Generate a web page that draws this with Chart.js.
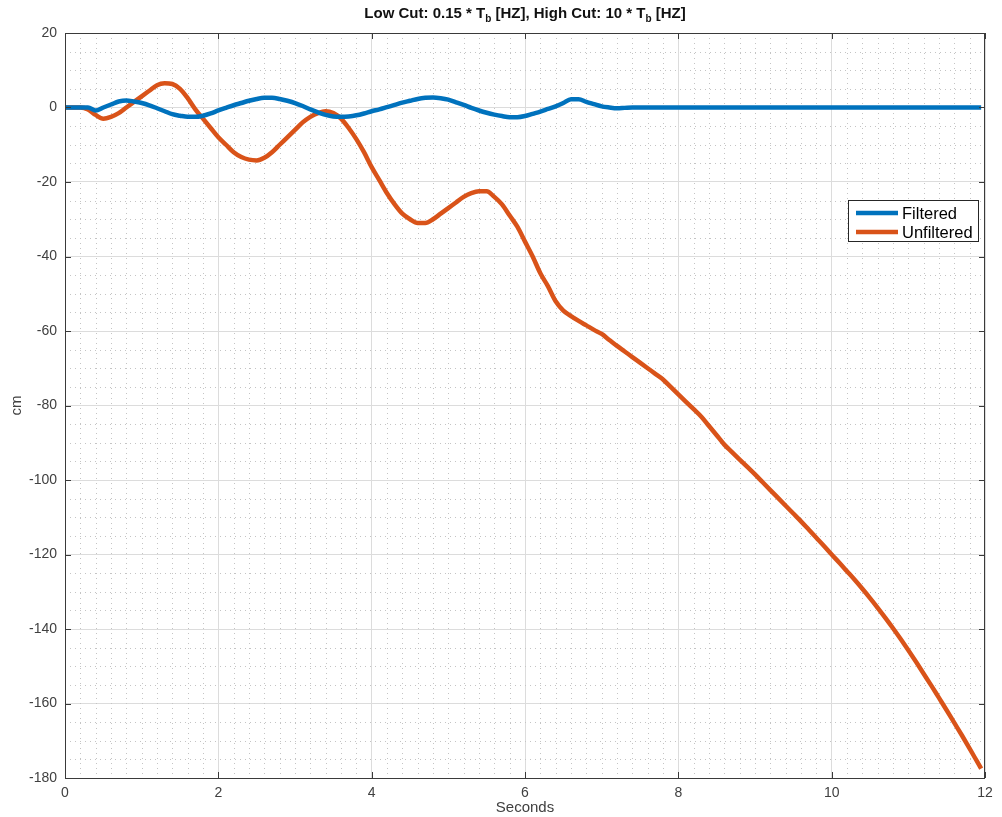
<!DOCTYPE html>
<html><head><meta charset="utf-8">
<script src="https://cdn.jsdelivr.net/npm/chart.js@4.4.0/dist/chart.umd.min.js"></script>
<style>html,body{margin:0;padding:0;background:#fff;}#wrap{width:1002px;height:817px;}</style>
</head><body><div id="wrap"><canvas id="c" width="1002" height="817"></canvas></div>
<script>
const seconds = [0,0.1,0.2,0.3,0.4,0.5,0.6,0.7,0.8,0.9,1,1.1,1.2,1.3,1.4,1.5,1.6,1.7,1.8,1.9,2,2.1,2.2,2.3,2.4,2.5,2.6,2.7,2.8,2.9,3,3.1,3.2,3.3,3.4,3.5,3.6,3.7,3.8,3.9,4,4.1,4.2,4.3,4.4,4.5,4.6,4.7,4.8,4.9,5,5.1,5.2,5.3,5.4,5.5,5.6,5.7,5.8,5.9,6,6.1,6.2,6.3,6.4,6.5,6.6,6.7,6.8,6.9,7,7.1,7.2,7.3,7.4,7.5,7.6,7.7,7.8,7.9,8,8.1,8.2,8.3,8.4,8.5,8.6,8.7,8.8,8.9,9,9.1,9.2,9.3,9.4,9.5,9.6,9.7,9.8,9.9,10,10.1,10.2,10.3,10.4,10.5,10.6,10.7,10.8,10.9,11,11.1,11.2,11.3,11.4,11.5,11.6,11.7,11.8,11.9,11.95];
const filtered = [0,0,0,0,-0.8,0,0.8,1.6,1.9,1.6,1.2,0.6,-0.2,-1.0,-1.8,-2.2,-2.5,-2.5,-2.2,-1.6,-0.8,-0.1,0.6,1.2,1.8,2.3,2.6,2.6,2.3,1.8,1.2,0.4,-0.5,-1.3,-2.0,-2.4,-2.5,-2.4,-2.1,-1.6,-1.0,-0.5,0.1,0.7,1.3,1.8,2.3,2.6,2.7,2.5,2.1,1.4,0.7,-0.1,-0.8,-1.4,-1.9,-2.3,-2.6,-2.6,-2.3,-1.7,-1.1,-0.4,0.3,1.2,2.2,2.2,1.5,0.9,0.3,0,-0.2,-0.1,0,0,0,0,0,0,0,0,0,0,0,0,0,0,0,0,0,0,0,0,0,0,0,0,0,0,0,0,0,0,0,0,0,0,0,0,0,0,0,0,0,0,0,0,0,0,0];
const unfiltered = [0,0,0,-0.5,-2,-3,-2.5,-1.5,0,1.5,3,4.5,6,6.5,6.3,5,2.5,-0.5,-3,-5.5,-8,-10,-12,-13.3,-14,-14.2,-13.5,-12,-10,-8,-6,-4,-2.5,-1.5,-1,-1.5,-3,-5.5,-8.5,-12,-16,-19.5,-23,-26,-28.5,-30,-31,-31,-30,-28.5,-27,-25.5,-24,-23,-22.5,-22.5,-24,-26,-29,-32,-36,-40,-44.5,-48,-52,-54.5,-56,-57.3,-58.5,-59.7,-60.8,-62.4,-64,-65.5,-67,-68.5,-70,-71.5,-73,-75,-77,-79,-81,-83,-85.5,-88,-90.5,-92.5,-94.5,-96.5,-98.5,-100.6,-102.7,-104.8,-106.9,-109,-111.1,-113.3,-115.5,-117.7,-120,-122.2,-124.5,-126.8,-129.2,-131.7,-134.3,-137,-139.8,-142.7,-145.7,-148.8,-152,-155.2,-158.5,-161.8,-165.2,-168.6,-172.1,-175.7,-177.5];
const seriesLabels = ["Filtered","Unfiltered"];
const seriesColors = ["#0072BD","#D95319"];
const xTicks = [0,2,4,6,8,10,12];
const yTicks = [20,0,-20,-40,-60,-80,-100,-120,-140,-160,-180];
const xLabel = "Seconds";
const yLabel = "cm";
const titleParts = [["Low Cut: 0.15 * T",false],["b",true],[" [HZ], High Cut: 10 * T",false],["b",true],[" [HZ]",false]];

const FONT = "'Liberation Sans', Arial, sans-serif";

const extras = {
  id: 'extras',
  beforeDatasetsDraw(chart) {
    const {ctx, chartArea: a, scales: {x, y}} = chart;
    ctx.save();
    ctx.strokeStyle = '#c4c4c4';
    ctx.lineWidth = 1;
    ctx.setLineDash([1, 4]);
    for (let i = 1; i < 60; i++) {
      if (i % 10 === 0) continue;
      const px = Math.round(x.getPixelForValue(i * 0.2)) + 0.5;
      ctx.beginPath(); ctx.moveTo(px, a.top); ctx.lineTo(px, a.bottom); ctx.stroke();
    }
    for (let v = 15; v > -180; v -= 5) {
      if (v % 20 === 0) continue;
      const py = Math.round(y.getPixelForValue(v)) + 0.5;
      ctx.beginPath(); ctx.moveTo(a.left, py); ctx.lineTo(a.right, py); ctx.stroke();
    }
    ctx.restore();
  },
  afterDatasetsDraw(chart) {
    const {ctx, chartArea: a, scales: {x, y}} = chart;
    ctx.save();
    ctx.strokeStyle = '#3a3a3a';
    ctx.lineWidth = 1;
    ctx.setLineDash([]);
    ctx.strokeRect(Math.round(a.left) + 0.5, Math.round(a.top) + 0.5, Math.round(a.right - a.left) - 1, Math.round(a.bottom - a.top));
    const tl = 6;
    xTicks.forEach(v => {
      const px = Math.round(x.getPixelForValue(v)) + 0.5;
      ctx.beginPath();
      ctx.moveTo(px, a.bottom); ctx.lineTo(px, a.bottom - tl);
      ctx.moveTo(px, a.top); ctx.lineTo(px, a.top + tl);
      ctx.stroke();
    });
    yTicks.forEach(v => {
      const py = Math.round(y.getPixelForValue(v)) + 0.5;
      ctx.beginPath();
      ctx.moveTo(a.left, py); ctx.lineTo(a.left + tl, py);
      ctx.moveTo(a.right, py); ctx.lineTo(a.right - tl, py);
      ctx.stroke();
    });
    // legend
    const lx = 848, ly = 200, lw = 130, lh = 41;
    ctx.fillStyle = '#fff';
    ctx.fillRect(lx, ly, lw, lh);
    ctx.strokeStyle = '#262626';
    ctx.strokeRect(lx + 0.5, ly + 0.5, lw, lh);
    chart.data.datasets.forEach((ds, i) => {
      const yy = ly + 13 + i * 19;
      ctx.strokeStyle = ds.borderColor;
      ctx.lineWidth = 4.5;
      ctx.beginPath(); ctx.moveTo(lx + 8, yy); ctx.lineTo(lx + 50, yy); ctx.stroke();
      ctx.fillStyle = '#000';
      ctx.font = '16.5px ' + FONT;
      ctx.textBaseline = 'middle';
      ctx.textAlign = 'left';
      ctx.fillText(ds.label, lx + 54, yy + 1);
    });
    // title with subscripts
    const mainFont = 'bold 15px ' + FONT, subFont = 'bold 10px ' + FONT;
    let total = 0;
    titleParts.forEach(([t, sub]) => { ctx.font = sub ? subFont : mainFont; total += ctx.measureText(t).width; });
    let cx = (a.left + a.right) / 2 - total / 2;
    const base = 18;
    ctx.fillStyle = '#111';
    ctx.textBaseline = 'alphabetic';
    ctx.textAlign = 'left';
    titleParts.forEach(([t, sub]) => {
      ctx.font = sub ? subFont : mainFont;
      ctx.fillText(t, cx, sub ? base + 4 : base);
      cx += ctx.measureText(t).width;
    });
    ctx.restore();
  }
};

new Chart(document.getElementById('c'), {
  type: 'line',
  data: {
    datasets: [
      {label: seriesLabels[0], data: seconds.map((t, i) => ({x: t, y: filtered[i]})), borderColor: seriesColors[0], borderWidth: 4.5, pointRadius: 0, cubicInterpolationMode: 'monotone', fill: false},
      {label: seriesLabels[1], data: seconds.map((t, i) => ({x: t, y: unfiltered[i]})), borderColor: seriesColors[1], borderWidth: 4.5, pointRadius: 0, cubicInterpolationMode: 'monotone', fill: false}
    ]
  },
  options: {
    responsive: false,
    animation: false,
    devicePixelRatio: 1,
    layout: {padding: {left: 0, right: 17, top: 33, bottom: 0}},
    plugins: {legend: {display: false}, title: {display: false}, tooltip: {enabled: false}},
    scales: {
      x: {
        type: 'linear', min: 0, max: 12,
        afterBuildTicks: s => { s.ticks = xTicks.map(v => ({value: v})); },
        afterFit: s => { s.height = 39; },
        grid: {color: '#dcdcdc', lineWidth: 1, drawTicks: false},
        border: {display: false},
        ticks: {color: '#404040', font: {family: FONT, size: 14}, padding: 7, maxRotation: 0},
        title: {display: true, text: xLabel, color: '#404040', font: {family: FONT, size: 15, lineHeight: 1.0}, padding: {top: 0, bottom: 2}}
      },
      y: {
        type: 'linear', min: -180, max: 20,
        afterBuildTicks: s => { s.ticks = yTicks.map(v => ({value: v})); },
        afterFit: s => { s.width = 65; },
        grid: {color: '#dcdcdc', lineWidth: 1, drawTicks: false},
        border: {display: false},
        ticks: {color: '#404040', font: {family: FONT, size: 14}, padding: 8},
        title: {display: true, text: yLabel, color: '#404040', font: {family: FONT, size: 15}, padding: {top: 8, bottom: 0}}
      }
    }
  },
  plugins: [extras]
});
</script>
</body></html>
